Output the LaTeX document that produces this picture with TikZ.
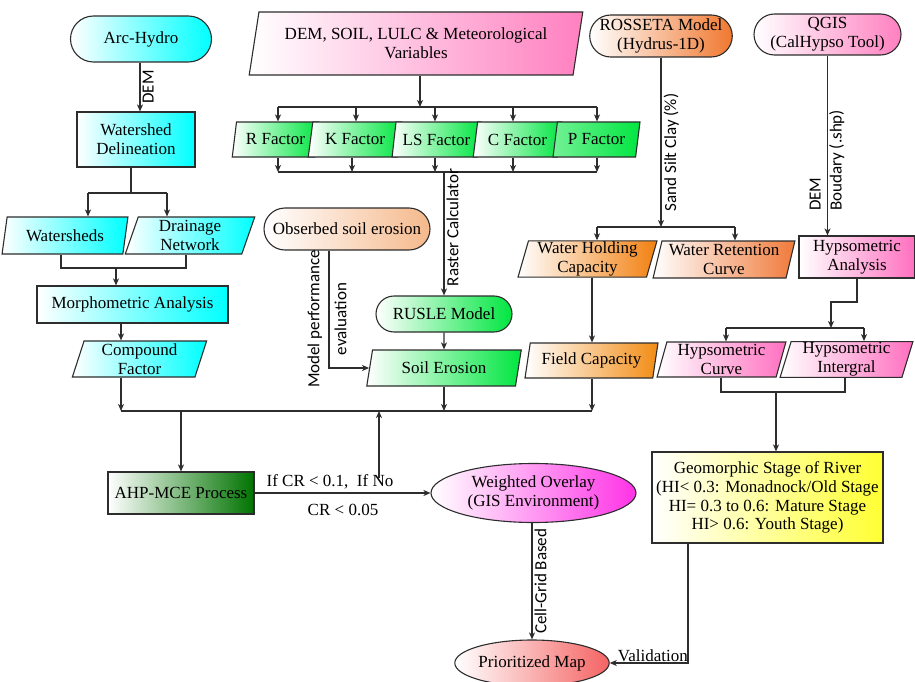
\documentclass[tikz,border=0pt]{standalone}
\usepackage{fontspec}
\setmainfont{Liberation Serif}
\newfontfamily\lblfont{Carlito}
\usetikzlibrary{shapes.geometric,shapes.misc,arrows.meta,calc}
\definecolor{cyanC}{RGB}{0,255,255}
\definecolor{greenF}{RGB}{0,230,64}
\definecolor{darkG}{RGB}{0,115,0}
\definecolor{orangeR}{RGB}{240,120,48}
\definecolor{orangeW}{RGB}{242,128,16}
\definecolor{orangeF}{RGB}{242,140,20}
\definecolor{orangeC}{RGB}{240,122,58}
\definecolor{peachO}{RGB}{245,185,140}
\definecolor{pinkD}{RGB}{255,128,192}
\definecolor{pinkH}{RGB}{255,112,192}
\definecolor{magW}{RGB}{255,51,230}
\definecolor{redP}{RGB}{245,100,100}
\definecolor{yelG}{RGB}{255,255,51}
\definecolor{lineC}{RGB}{45,45,45}
\begin{document}
\begin{tikzpicture}[x=1pt,y=-1pt,
  font=\fontsize{17}{18.8}\selectfont,
  line/.style={draw=lineC, line width=1.2pt},
  arr/.style={line, -{Stealth[length=7pt,width=6pt,inset=2pt]}},
  box/.style={draw=lineC, line width=1.1pt, align=center, inner sep=1pt, shading=axis, left color=white},
  rbox/.style={box, rectangle},
  stad/.style={box, rounded rectangle},
  ell/.style={box, ellipse},
  para/.style={box, trapezium, trapezium left angle=76, trapezium right angle=104, trapezium stretches=true},
  slbl/.style={font=\lblfont\fontsize{17}{21}\selectfont, inner sep=2pt},
  tlbl/.style={inner sep=1pt}
]
\useasboundingbox (0,0) rectangle (915,682);

% ---------- left column ----------
\node[stad, right color=cyanC, minimum width=143, minimum height=46] (arc) at (141,39) {Arc-Hydro};
\node[rbox, right color=cyanC, minimum width=118, minimum height=55] (wd) at (136,139.5) {Watershed\\Delineation};
\node[para, right color=cyanC, minimum width=126, minimum height=37] (ws) at (65,235.5) {Watersheds};
\node[para, right color=cyanC, minimum width=130, minimum height=37] (dn) at (190,235.5) {Drainage\\Network};
\node[rbox, right color=cyanC, minimum width=191, minimum height=37] (ma) at (132.5,304.5) {Morphometric Analysis};
\node[para, right color=cyanC, minimum width=135, minimum height=36] (cf) at (139.5,359) {Compound\\Factor};
\node[rbox, right color=darkG, minimum width=146, minimum height=42] (ahp) at (181,493) {AHP-MCE Process};

% ---------- middle ----------
\node[para, right color=pinkD, minimum width=334, minimum height=63] (dem) at (416,43.5) {DEM, SOIL, LULC \& Meteorological\\Variables};
\node[para, right color=greenF, minimum width=87, minimum height=35] (rf) at (275.5,139.5) {R Factor};
\node[para, right color=greenF, minimum width=94, minimum height=35] (kf) at (355,139.5) {K Factor};
\node[para, right color=greenF, minimum width=89, minimum height=35] (lsf) at (436.5,139.5) {LS Factor};
\node[para, right color=greenF, minimum width=89, minimum height=35] (cfac) at (517.5,139.5) {C Factor};
\node[para, left color=greenF!55, right color=greenF, minimum width=87, minimum height=35] (pf) at (596.5,139.5) {P Factor};
\node[stad, right color=peachO, minimum width=168, minimum height=42] (obs) at (347,229) {Obserbed soil erosion};
\node[stad, right color=greenF, minimum width=138, minimum height=36] (rusle) at (444,314) {RUSLE Model};
\node[para, right color=greenF, minimum width=156, minimum height=36] (se) at (444,368) {Soil Erosion};
\node[ell, right color=magW, minimum width=205, minimum height=59] (wo) at (533.5,493) {Weighted Overlay\\(GIS Environment)};
\node[ell, right color=redP, minimum width=140, minimum height=46] (pm) at (532,663) {Prioritized Map};

% ---------- right ----------
\node[stad, right color=orangeR, minimum width=138, minimum height=42] (ross) at (661,36) {ROSSETA Model\\(Hydrus-1D)};
\node[stad, right color=pinkD, minimum width=149, minimum height=41] (qgis) at (827.5,34.5) {QGIS\\(CalHypso Tool)};
\node[para, right color=orangeW, minimum width=139, minimum height=36] (whc) at (587.5,259) {Water Holding\\Capacity};
\node[para, right color=orangeC, minimum width=142, minimum height=37] (wrc) at (724,259.5) {Water Retention\\Curve};
\node[para, right color=orangeF, minimum width=133, minimum height=35] (fc) at (591.5,360.5) {Field Capacity};
\node[rbox, right color=pinkH, minimum width=116, minimum height=42] (ha) at (857,257) {Hypsometric\\Analysis};
\node[para, right color=pinkH, minimum width=129, minimum height=35] (hc) at (721.5,359.5) {Hypsometric\\Curve};
\node[para, right color=pinkH, minimum width=133, minimum height=35] (hi) at (846.5,359.5) {Hypsometric\\Intergral};
\node[rbox, right color=yelG, minimum width=231, minimum height=91] (geo) at (767.5,497.5) {Geomorphic Stage of River\\(HI< 0.3: Monadnock/Old Stage\\HI= 0.3 to 0.6: Mature Stage\\HI> 0.6: Youth Stage)};

% ---------- coordinates ----------
\coordinate (j1) at (131,193);
\coordinate (j2) at (116,268);
\coordinate (bus1) at (121,411);
\coordinate (bus2) at (592,411);
\coordinate (jahp) at (181,411);
\coordinate (up0) at (379,478);
\coordinate (upt) at (379,411);
\coordinate (d1) at (420,107);
\coordinate (d1l) at (278,107);
\coordinate (d1r) at (597,107);
\coordinate (d2l) at (278,172);
\coordinate (d2r) at (597,172);
\coordinate (d2) at (444,172);
\coordinate (r1) at (661,227);
\coordinate (r1l) at (597,227);
\coordinate (r1r) at (735,227);
\coordinate (h1) at (857,302);
\coordinate (h2) at (831,302);
\coordinate (h2t) at (831,328);
\coordinate (h2l) at (726,328);
\coordinate (h2r) at (864,328);
\coordinate (h3l) at (721,392);
\coordinate (h3r) at (845,392);
\coordinate (h3) at (776,392);
\coordinate (val) at (688,663);

% ---------- connectors: left ----------
\draw[arr] (arc.south -| 140,0) -- node[slbl, rotate=90, anchor=north] (lbldem) {DEM} (wd.north -| 140,0);
\draw[line] (wd.south -| j1) -- (j1);
\draw[line] (88,193) -- (167,193);
\draw[arr] (88,193) -- (ws.north -| 88,0);
\draw[arr] (167,193) -- (dn.north -| 167,0);
\draw[line] (ws.south -| 61,0) -- (61,268) -- (186,268) -- (dn.south -| 186,0);
\draw[arr] (j2) -- (ma.north -| j2);
\draw[arr] (ma.south -| 121,0) -- (cf.north -| 121,0);
\draw[arr] (cf.south -| bus1) -- (bus1);
\draw[line] (bus1) -- (bus2);
\draw[arr] (jahp) -- (ahp.north);
\draw[arr] (ahp.east) -- (wo.west);
\node[tlbl] (lif) at (330,482) {If CR < 0.1,\ \ If No};
\node[tlbl] (lcr) at (343,510) {CR < 0.05};
\draw[arr] (up0) -- (upt);

% ---------- connectors: middle ----------
\draw[arr] (dem.south -| d1) -- (d1);
\draw[line] (d1l) -- (d1r);
\draw[arr] (d1l) -- (rf.north -| d1l);
\draw[arr] (356,107) -- (kf.north -| 356,0);
\draw[arr] (435,107) -- (lsf.north -| 435,0);
\draw[arr] (513,107) -- (cfac.north -| 513,0);
\draw[arr] (d1r) -- (pf.north -| d1r);
\draw[arr] (rf.south -| d2l) -- (d2l);
\draw[arr] (kf.south -| 352,0) -- (352,172);
\draw[arr] (lsf.south -| 435,0) -- (435,172);
\draw[arr] (cfac.south -| 513,0) -- (513,172);
\draw[arr] (pf.south -| d2r) -- (d2r);
\draw[line] (d2l) -- (d2r);
\draw[arr] (d2) -- node[slbl, rotate=90, anchor=north, pos=0.45] (lblrc) {Raster Calculator} (rusle.north);
\draw[arr] (rusle.south) -- (se.north);
\draw[arr] (se.south) -- (se.south |- bus1);
\draw[arr] (obs.south -| 329,0) |- (se.west);
\node[slbl, rotate=90, align=center] (lblmpe) at (327,319) {Model performance\\[6pt]evaluation};
\draw[arr] (wo.south -| 532,0) -- node[slbl, rotate=90, anchor=north] (lblcg) {Cell-Grid Based} (pm.north);
\draw[arr] (geo.south -| val) -- (val) -- node[tlbl, above, pos=0.45] (lblval) {Validation} (pm.east);

% ---------- connectors: right ----------
\draw[arr] (ross.south) -- node[slbl, rotate=90, anchor=north, pos=0.56] (lblssc) {Sand Silt Clay (\%)} (r1);
\draw[line] (r1l) -- (r1r);
\draw[arr] (r1l) -- (whc.north -| r1l);
\draw[arr] (r1r) -- (wrc.north -| r1r);
\draw[arr] (whc.south -| 592,0) -- (fc.north -| 592,0);
\draw[arr] (fc.south -| bus2) -- (bus2);
\draw[arr] (qgis.south) -- (ha.north -| qgis.south);
\node[slbl, rotate=90, align=left, anchor=west] (lbldb) at (827,213) {DEM\\Boudary (.shp)};
\draw[arr] (ha.south -| h1) -- (h1) -- (h2) -- (h2t);
\draw[line] (h2l) -- (h2r);
\draw[arr] (h2l) -- (hc.north -| h2l);
\draw[arr] (h2r) -- (hi.north -| h2r);
\draw[line] (hc.south -| h3l) -- (h3l) -- (h3r) -- (hi.south -| h3r);
\draw[arr] (h3) -- (geo.north -| h3);
\end{tikzpicture}
\end{document}
